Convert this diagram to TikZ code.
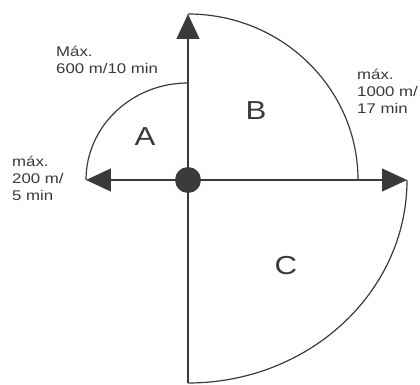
\documentclass[tikz,border=0pt]{standalone}
\usepackage{fontspec}
\newfontfamily\labelfont[FakeStretch=1.2]{Liberation Sans}
\usepackage{tikz}
\usetikzlibrary{arrows.meta, positioning}
\definecolor{ink}{HTML}{3A3A3A}

\begin{document}
\begin{tikzpicture}[
      x=1pt, y=1pt,
      every node/.style={font=\labelfont\fontsize{14}{17}\selectfont, text=ink},
      region/.style={font=\labelfont\fontsize{26}{30}\selectfont},
      caption/.style={align=left, inner sep=0pt, anchor=north west},
      axis/.style={-{Triangle[length=25pt,width=23pt]}, line width=1.2pt, draw=ink},
      limit/.style={line width=1.2pt, draw=ink}
    ]
      \useasboundingbox (-188,-205) rectangle (232,180);
      % centre and arrow ends
      \node[circle, fill=ink, minimum size=26pt, inner sep=0pt] (origin) at (0,0) {};
      \coordinate (north) at (0,166);
      \coordinate (west) at (-102,0);
      \coordinate (east) at (219,0);
      \coordinate (south) at (0,-203);
      \coordinate (a-start) at (0,97);
      \draw[axis] (origin) -- (north);
      \draw[axis] (origin) -- (west);
      \draw[axis] (origin) -- (east);
      \draw[limit] (origin) -- (south);
      % reach of each zone
      \draw[limit] (a-start) arc[start angle=90, end angle=180, x radius=102, y radius=97];
      \draw[limit] (north) arc[start angle=90, end angle=0, x radius=170, y radius=166];
      \draw[limit] (east) arc[start angle=0, end angle=-90, x radius=219, y radius=203];
      \node[region] (zone-a) at (-43,43) {A};
      \node[region] (zone-b) at (68,69) {B};
      \node[region] (zone-c) at (98,-86) {C};
      \node[caption] (max-a) at (-132,134) {Máx.\\600 m/10 min};
      \node[caption] (max-b) at (169,111) {máx.\\1000 m/\\17 min};
      \node[caption] (max-w) at (-176,24) {máx.\\200 m/\\5 min};
    \end{tikzpicture}
\end{document}
